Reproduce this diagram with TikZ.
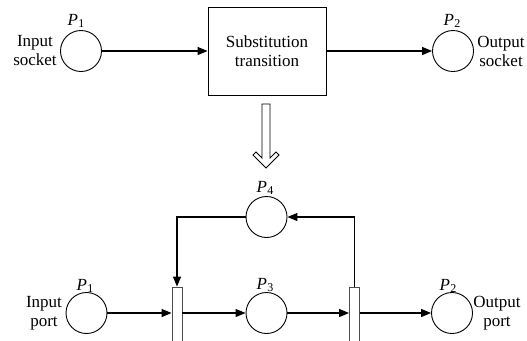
\documentclass[tikz,border=0pt]{standalone}
\usepackage{fontspec}
\setmainfont{Liberation Serif}
\usetikzlibrary{arrows.meta}
\newcommand{\plabel}[1]{\textit{P}\kern0.5bp\raisebox{-0.3ex}{\fontsize{12bp}{12bp}\selectfont #1}}
\tikzset{
  place/.style={draw, circle, line width=0.9bp, minimum size=41bp, inner sep=0pt},
  subst/.style={draw, rectangle, line width=0.9bp, minimum width=118bp, minimum height=88bp,
    align=center, inner sep=0pt},
  bar/.style={draw=black!70, fill=white, rectangle, line width=0.9bp, minimum width=10bp,
    minimum height=60bp, inner sep=0pt},
  lbl/.style={align=center, inner sep=0pt, font=\fontsize{17bp}{19bp}\selectfont},
  plbl/.style={anchor=base, inner sep=0pt, font=\fontsize{17bp}{19bp}\selectfont},
  arc/.style={line width=1.2bp, -{Triangle[length=10bp,width=8bp]}},
}
\begin{document}
\begin{tikzpicture}[x=1bp, y=-1bp]
  \useasboundingbox (0,0) rectangle (527,340);

  % ---- upper net: substitution transition with its sockets ----
  \node[place] (sp1) at (81,51) {};
  \node[place] (sp2) at (453,51) {};
  \node[subst, lbl] (st) at (267,51) {Substitution\\transition};
  \node[plbl] (lsp1) at (76,25.5) {\plabel{1}};
  \node[plbl] (lsp2) at (452,25) {\plabel{2}};
  \node[lbl] (tin) at (35,51) {Input\\socket};
  \node[lbl] (tout) at (501,51) {Output\\socket};
  \draw[arc] (sp1.east) -- (st.west);
  \draw[arc] (st.east) -- (sp2.west);

  % ---- refinement arrow ----
  \draw[line width=0.8bp, fill=white]
    (262,104) -- (270,104) -- (270,158) -- (276,152) -- (279,155) -- (266,168)
    -- (253,155) -- (256,152) -- (262,158) -- cycle;

  % ---- lower net: the subpage ----
  \node[place] (pp1) at (86.5,313) {};
  \node[place] (pp3) at (266.5,313) {};
  \node[place] (pp2) at (452,313) {};
  \node[place] (pp4) at (266.5,217) {};
  \node[bar] (t1) at (177,317) {};
  \node[bar] (t2) at (354.5,317) {};
  \node[plbl] (lpp1) at (85,290) {\plabel{1}};
  \node[plbl] (lpp3) at (265,289) {\plabel{3}};
  \node[plbl] (lpp2) at (448,290) {\plabel{2}};
  \node[plbl] (lpp4) at (265,192) {\plabel{4}};
  \node[lbl] (pin) at (44,313) {Input\\port};
  \node[lbl] (pout) at (497,313) {Output\\port};

  \draw[arc] (pp1.east) -- (pp1 -| t1.west);
  \draw[arc] (pp1 -| t1.east) -- (pp3.west);
  \draw[arc] (pp3.east) -- (pp3 -| t2.west);
  \draw[arc] (pp2 -| t2.east) -- (pp2.west);
  \draw[arc] (t2.north) |- (pp4.east);
  \draw[arc] (pp4.west) -| (t1.north);
\end{tikzpicture}
\end{document}
